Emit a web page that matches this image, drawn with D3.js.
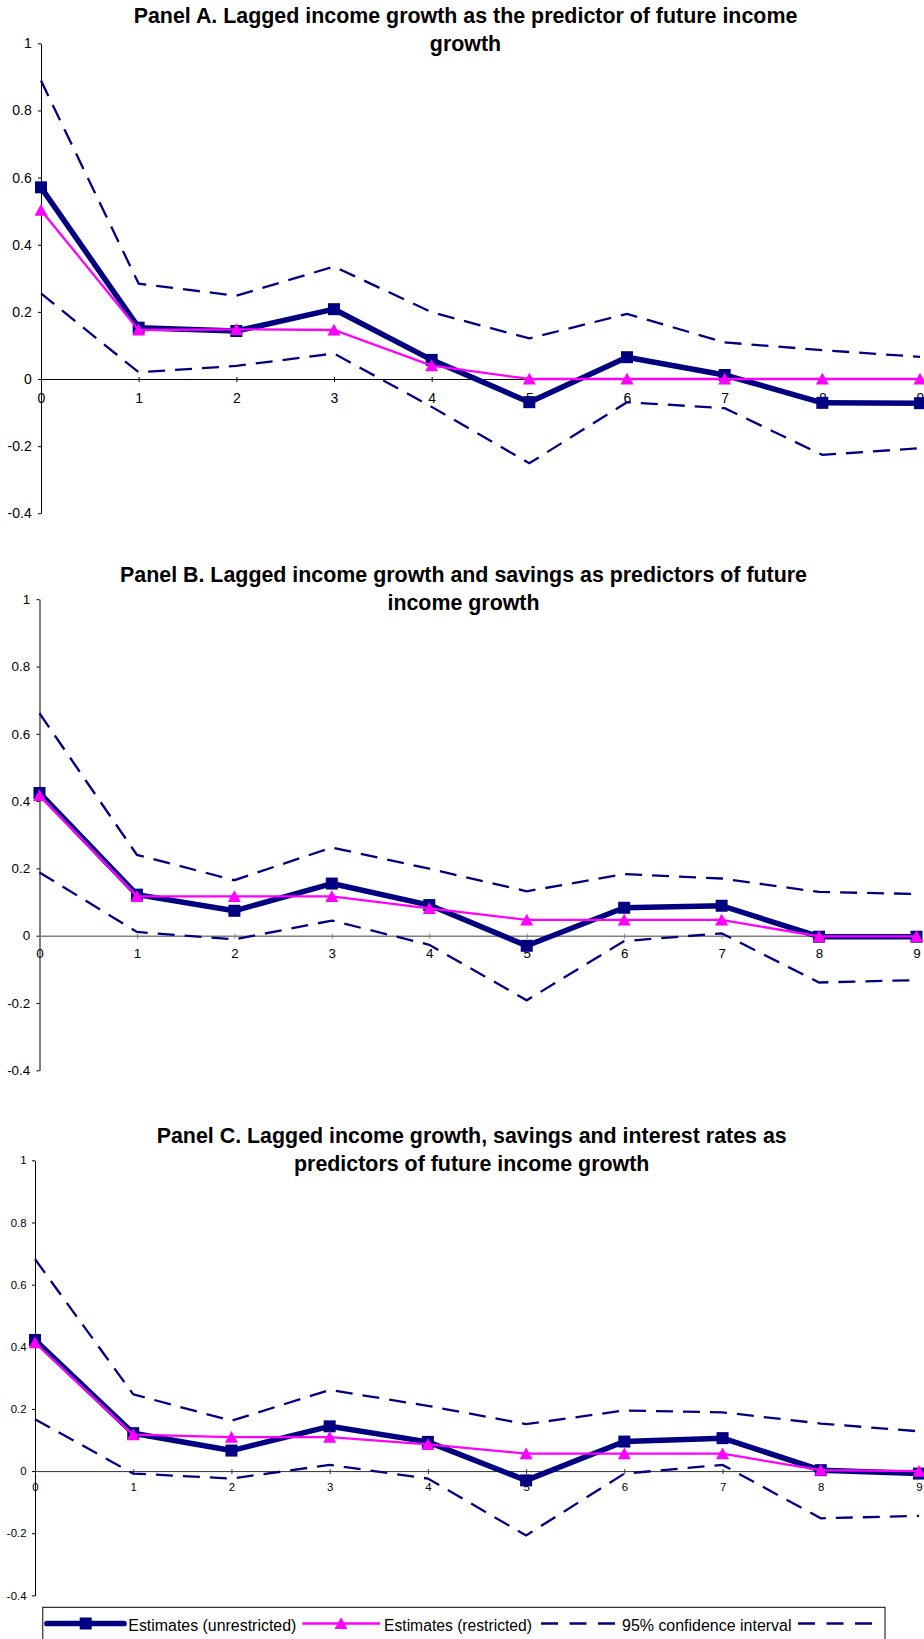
<!DOCTYPE html>
<html>
<head>
<meta charset="utf-8">
<script src="https://cdn.jsdelivr.net/npm/d3@7"></script>
<style>
  html, body { margin: 0; padding: 0; background: #fff; }
  svg { display: block; }
  text { font-family: "Liberation Sans", Arial, sans-serif; }
</style>
</head>
<body>
<svg id="chart" width="924" height="1639"></svg>
<script>
// ---------------- data ----------------
const lags = [0, 1, 2, 3, 4, 5, 6, 7, 8, 9];
const xTickLabels = ["0", "1", "2", "3", "4", "5", "6", "7", "8", "9"];
const yTicks = [-0.4, -0.2, 0, 0.2, 0.4, 0.6, 0.8, 1];
const yTickLabels = ["-0.4", "-0.2", "0", "0.2", "0.4", "0.6", "0.8", "1"];

const titleA = ["Panel A. Lagged income growth as the predictor of future income", "growth"];
const titleB = ["Panel B. Lagged income growth and savings as predictors of future", "income growth"];
const titleC = ["Panel C. Lagged income growth, savings and interest rates as", "predictors of future income growth"];

const aUnrestricted = [0.571, 0.153, 0.143, 0.208, 0.057, -0.069, 0.065, 0.012, -0.071, -0.072];
const aRestricted   = [0.503, 0.146, 0.148, 0.146, 0.040, 0.000, 0.000, 0.000, 0.000, 0.000];
const aUpper        = [0.889, 0.284, 0.248, 0.335, 0.199, 0.121, 0.194, 0.109, 0.086, 0.066];
const aLower        = [0.255, 0.020, 0.039, 0.076, -0.083, -0.251, -0.069, -0.087, -0.226, -0.206];

const bUnrestricted = [0.424, 0.122, 0.074, 0.155, 0.091, -0.030, 0.083, 0.089, -0.003, -0.003];
const bRestricted   = [0.417, 0.117, 0.117, 0.117, 0.081, 0.047, 0.047, 0.047, -0.002, -0.002];
const bUpper        = [0.661, 0.240, 0.165, 0.262, 0.199, 0.132, 0.183, 0.170, 0.130, 0.124];
const bLower        = [0.188, 0.011, -0.011, 0.045, -0.027, -0.192, -0.016, 0.007, -0.139, -0.132];

const cUnrestricted = [0.422, 0.122, 0.066, 0.144, 0.094, -0.030, 0.095, 0.106, 0.003, -0.008];
const cRestricted   = [0.413, 0.117, 0.109, 0.109, 0.086, 0.056, 0.056, 0.056, 0.003, 0.000];
const cUpper        = [0.682, 0.247, 0.162, 0.261, 0.210, 0.151, 0.195, 0.189, 0.153, 0.128];
const cLower        = [0.167, -0.008, -0.024, 0.020, -0.024, -0.207, -0.008, 0.020, -0.152, -0.144];

const legendLabels = ["Estimates (unrestricted)", "Estimates (restricted)", "95% confidence interval"];

// ---------------- styles ----------------
const NAVY = "#000080";
const PINK = "#FF00FF";
const FONT = '"Liberation Sans", Arial, sans-serif';

const panels = [
  { title: titleA, titleX: 465.5, titleY: [23.3, 50.5],
    xr: [41, 920], yr: [513.3, 43.3], tickFont: 14, xLabOff: 19.3, yLabOff: 9.3,
    zeroColor: "#000", zeroWidth: 1,
    unres: aUnrestricted, res: aRestricted, up: aUpper, lo: aLower },
  { title: titleB, titleX: 463.5, titleY: [582.3, 609.5],
    xr: [39.5, 916.5], yr: [1070.3, 599.2], tickFont: 13.4, xLabOff: 17.5, yLabOff: 9.3,
    zeroColor: "#808080", zeroWidth: 1.6,
    unres: bUnrestricted, res: bRestricted, up: bUpper, lo: bLower },
  { title: titleC, titleX: 471.7, titleY: [1142.6, 1170.5],
    xr: [35, 919], yr: [1595.4, 1160.3], tickFont: 11.4, xLabOff: 16.2, yLabOff: 8.5,
    zeroColor: "#333", zeroWidth: 1,
    unres: cUnrestricted, res: cRestricted, up: cUpper, lo: cLower }
];

const svg = d3.select("#chart");
const squareSym = d3.symbol().type(d3.symbolSquare).size(144);
const triPath = "M0,-6.2L6.5,5.6L-6.5,5.6Z";

panels.forEach(p => {
  const x = d3.scaleLinear().domain([0, 9]).range(p.xr);
  const y = d3.scaleLinear().domain([-0.4, 1]).range(p.yr);
  const g = svg.append("g");

  // title
  p.title.forEach((t, i) => {
    g.append("text")
      .attr("x", p.titleX).attr("y", p.titleY[i])
      .attr("text-anchor", "middle")
      .attr("font-size", 21.4).attr("font-weight", "bold")
      .attr("fill", "#000")
      .text(t);
  });

  // y axis
  const yAxis = d3.axisLeft(y)
    .tickValues(yTicks)
    .tickFormat((d, i) => yTickLabels[i])
    .tickSizeInner(3).tickSizeOuter(0).tickPadding(p.yLabOff - 3);
  const ya = g.append("g").attr("transform", `translate(${p.xr[0]},0)`).call(yAxis);
  ya.select(".domain").attr("stroke", "#000").attr("stroke-width", 1);
  ya.selectAll(".tick line").attr("stroke", "#000");
  ya.selectAll(".tick text").attr("font-size", p.tickFont).attr("font-family", FONT).attr("fill", "#000");

  // x axis at zero
  const xAxis = d3.axisBottom(x)
    .tickValues(lags)
    .tickFormat((d, i) => xTickLabels[i])
    .tickSizeInner(4).tickSizeOuter(0);
  const xa = g.append("g").attr("transform", `translate(0,${y(0)})`).call(xAxis);
  xa.select(".domain").attr("stroke", p.zeroColor).attr("stroke-width", p.zeroWidth);
  xa.selectAll(".tick line").attr("stroke", p.zeroColor).attr("y1", -2).attr("y2", 3);
  xa.selectAll(".tick text")
    .attr("y", p.xLabOff).attr("dy", "0.35em")
    .attr("font-size", p.tickFont).attr("font-family", FONT).attr("fill", "#000");

  const line = d3.line().x((d, i) => x(lags[i])).y(d => y(d));

  // confidence bands
  [p.up, p.lo].forEach(arr => {
    g.append("path").datum(arr)
      .attr("d", line)
      .attr("fill", "none")
      .attr("stroke", NAVY)
      .attr("stroke-width", 2.3)
      .attr("stroke-dasharray", "17,10");
  });

  // unrestricted
  g.append("path").datum(p.unres)
    .attr("d", line)
    .attr("fill", "none")
    .attr("stroke", NAVY)
    .attr("stroke-width", 5.5)
    .attr("stroke-linejoin", "round");
  g.selectAll(null).data(p.unres).enter().append("path")
    .attr("d", squareSym)
    .attr("transform", (d, i) => `translate(${x(lags[i])},${y(d)})`)
    .attr("fill", NAVY);

  // restricted
  g.append("path").datum(p.res)
    .attr("d", line)
    .attr("fill", "none")
    .attr("stroke", PINK)
    .attr("stroke-width", 2.3);
  g.selectAll(null).data(p.res).enter().append("path")
    .attr("d", triPath)
    .attr("transform", (d, i) => `translate(${x(lags[i])},${y(d)})`)
    .attr("fill", PINK);
});

// ---------------- legend ----------------
const lg = svg.append("g");
lg.append("rect")
  .attr("x", 42.8).attr("y", 1607.3)
  .attr("width", 842.2).attr("height", 60)
  .attr("fill", "#fff").attr("stroke", "#000").attr("stroke-width", 1);

const ly = 1623.5;
lg.append("line").attr("x1", 47).attr("x2", 124).attr("y1", ly).attr("y2", ly)
  .attr("stroke", NAVY).attr("stroke-width", 5.7).attr("stroke-linecap", "round");
lg.append("path").attr("d", squareSym).attr("transform", `translate(85.7,${ly})`).attr("fill", NAVY);

lg.append("line").attr("x1", 302.3).attr("x2", 380).attr("y1", ly).attr("y2", ly)
  .attr("stroke", PINK).attr("stroke-width", 2.3);
lg.append("path").attr("d", triPath).attr("transform", `translate(341,${ly})`).attr("fill", PINK);

[[541, 615], [798, 872]].forEach(([a, b]) => {
  lg.append("line").attr("x1", a).attr("x2", b).attr("y1", ly).attr("y2", ly)
    .attr("stroke", NAVY).attr("stroke-width", 2.7).attr("stroke-dasharray", "17,11.5");
});

const legText = [
  { x: 128.3, w: 168, t: legendLabels[0] },
  { x: 384, w: 148, t: legendLabels[1] },
  { x: 622, w: 169.5, t: legendLabels[2] }
];
legText.forEach(d => {
  lg.append("text")
    .attr("x", d.x).attr("y", 1630.6)
    .attr("font-size", 17.3)
    .attr("textLength", d.w).attr("lengthAdjust", "spacingAndGlyphs")
    .attr("fill", "#000")
    .text(d.t);
});
</script>
</body>
</html>
